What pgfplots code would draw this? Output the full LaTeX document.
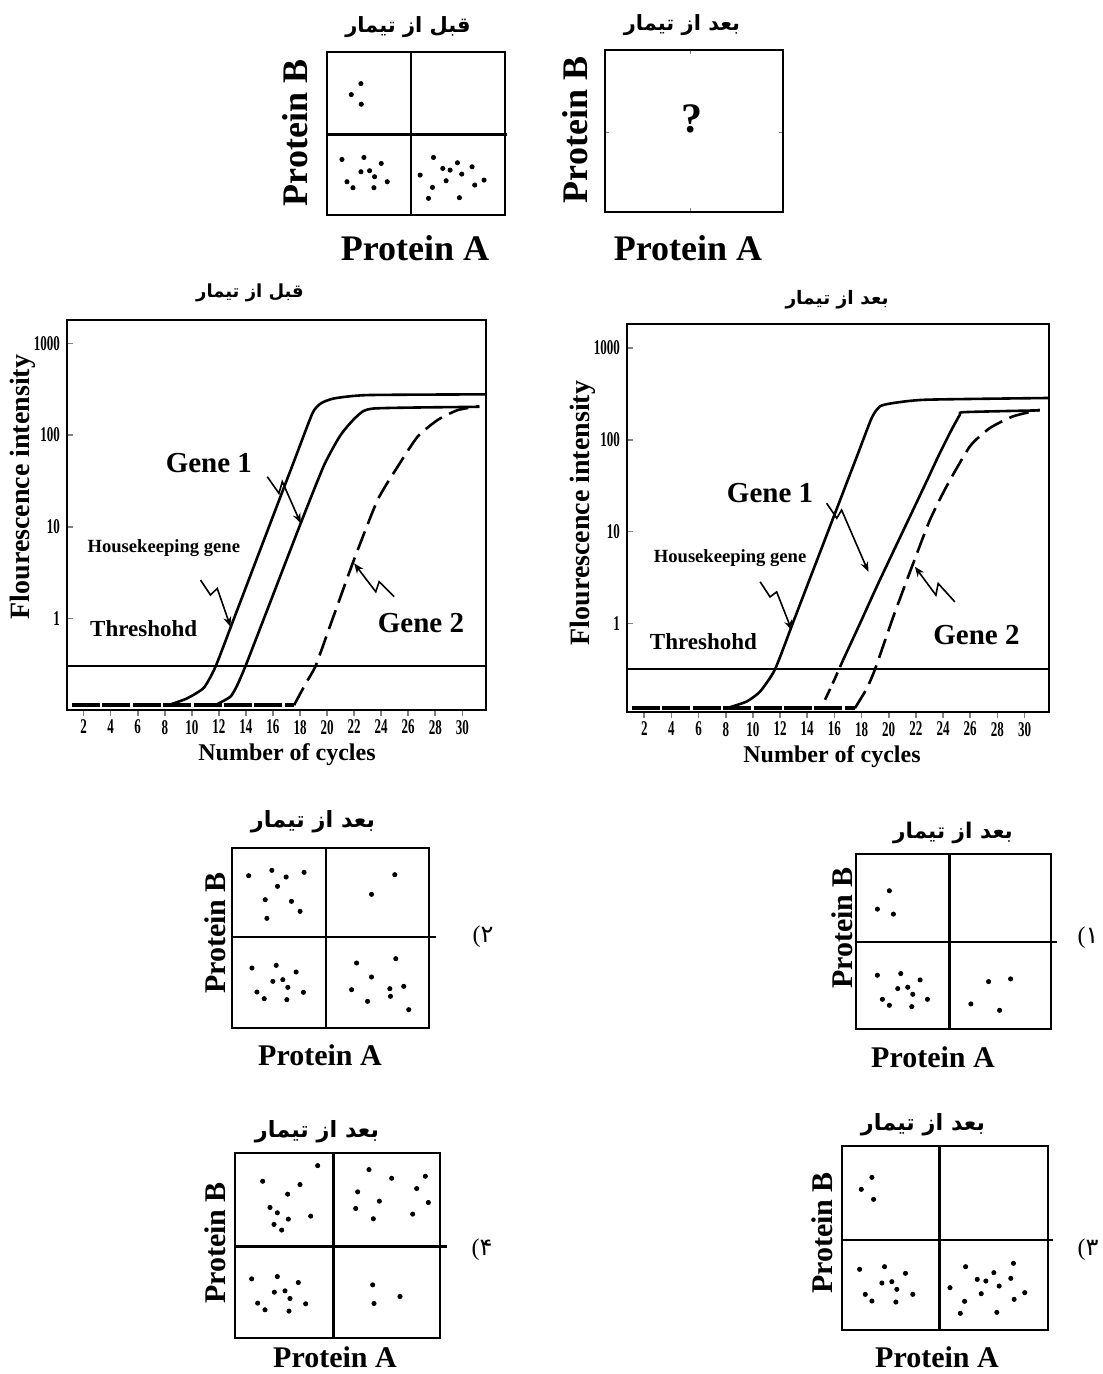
\documentclass[border=0pt]{standalone}
\usepackage{pgfplots}
\pgfplotsset{compat=1.18}
\usepackage{fontspec}
\setmainfont{Liberation Serif}
\newfontfamily\condfont[FakeStretch=0.62]{Liberation Serif}
\newfontfamily\arabicfont[Script=Arabic]{DejaVu Sans}
\TeXXeTstate=1
\usetikzlibrary{arrows.meta}
\newcommand{\fa}[1]{{\arabicfont\bfseries\beginR #1\endR}}
\newcommand{\fs}[1]{\fontsize{#1}{#1}\selectfont}
% option number: Persian "n)" as it reads right to left, "(" left of the digit
\newcommand{\opt}[1]{\hbox{(}\hbox{\arabicfont #1}}

\pgfplotsset{
  dots/.style={only marks, mark=*, mark size=1.05pt, black},
}
\tikzset{
  divl/.style={line width=1.3pt, black},
  curve/.style={line width=1.3pt, black, smooth, tension=0.35},
  base/.style={line width=2pt, black, dash pattern=on 14pt off 1.2pt},
  thr/.style={line width=1.1pt, black},
  zig/.style={line width=0.8pt, black, -{Stealth[length=5pt,width=4pt]}},
}

\begin{document}
\begin{tikzpicture}
\path[use as bounding box] (0pt,0pt) rectangle (551pt,-687pt);

% ---------------- top-left quadrant plot (before treatment)
\begin{axis}[scale only axis, anchor=north west, y dir=reverse,
  xtick=\empty, ytick=\empty, clip=false, axis line style={line width=1.3pt},
  at={(163.5pt,-26pt)}, width=89pt, height=81.5pt,
  xmin=170, xmax=705, ymin=155, ymax=645]
\addplot[divl] coordinates {(422,155) (422,645)};
\addplot[divl] coordinates {(170,403) (712,403)};
\addplot[dots] coordinates {(272,250) (243,283) (273,312)};
\addplot[dots] coordinates {(215,478) (281,472) (333,490) (272,515) (298,512)
  (313,530) (230,545) (351,545) (248,563) (311,563)};
\addplot[dots] coordinates {(490,472) (518,505) (540,510) (562,488) (606,500)
  (450,525) (575,522) (528,542) (642,540) (614,555) (487,562) (475,595) (568,593)};
\end{axis}
\node[font=\fs{10.5}] at (204pt,-13.5pt) {\fa{قبل از تیمار}};
\node[font=\bfseries\fs{18}] at (207.5pt,-124pt) {Protein A};
\node[font=\bfseries\fs{18}, rotate=90] at (147.5pt,-66.5pt) {Protein B};

% ---------------- top-right (after treatment, unknown)
\begin{axis}[scale only axis, anchor=north west, y dir=reverse,
  clip=false, axis line style={line width=1.3pt},
  at={(302.5pt,-25pt)}, width=89pt, height=81pt,
  xmin=1005, xmax=1540, ymin=150, ymax=635,
  xtick={1262}, ytick={395}, xticklabels={}, yticklabels={},
  tick align=inside, major tick length=2pt]
\addplot[draw=none] coordinates {(1265,355)};
\node[font=\bfseries\fs{21}] at (axis cs:1265,355) {?};
\end{axis}
\node[font=\fs{10.5}] at (341pt,-12.5pt) {\fa{بعد از تیمار}};
\node[font=\bfseries\fs{18}] at (344pt,-124pt) {Protein A};
\node[font=\bfseries\fs{18}, rotate=90] at (287.5pt,-65pt) {Protein B};

% ---------------- left qPCR chart (before)
\begin{axis}[scale only axis, anchor=north west, ymode=log,
  xtick={2,4,...,30},
  xticklabels={2,4,6,8,10,12,14,16,18,20,22,24,26,28,30},
  ytick={1,10,100,1000}, yticklabels={1,10,100,1000},
  yminorticks=false, tick pos=left, tick align=inside,
  major tick length=3pt, xtick style={yshift=-3pt, line width=0.8pt},
  ytick style={line width=0.8pt},
  tick label style={font=\condfont\bfseries\fs{10.5}},
  xticklabel style={yshift=-1.5pt},
  axis line style={line width=0.9pt},
  at={(33.5pt,-160pt)}, width=209.5pt, height=195pt,
  xmin=0.77, xmax=31.75, ymin=0.1, ymax=1800]
\addplot[thr] coordinates {(0.77,0.305) (31.75,0.305)};
\addplot[base] coordinates {(1.14,0.114) (17.56,0.114)};
\addplot[curve] coordinates {(8.42,0.115) (9.65,0.134) (10.89,0.175) (11.75,0.297)
  (13.11,0.99) (14.59,3.7) (16.32,17.3) (17.56,52) (18.91,172) (19.53,221)
  (20.52,251) (23.0,273) (31.75,278)};
\addplot[curve] coordinates {(11.88,0.116) (12.86,0.14) (13.36,0.187) (13.98,0.305)
  (15.58,1.24) (18.05,10.9) (19.78,47) (21.0,100) (22.2,160) (23.48,195) (31.26,203)};
\addplot[curve, dash pattern=on 10pt off 4pt] coordinates {(17.56,0.113) (18.42,0.195)
  (19.16,0.305) (20.52,1.1) (22.0,4.4) (23.73,19.5) (25.21,45) (26.69,96)
  (28.17,146) (29.65,187) (31.26,207)};
\draw[zig] (axis cs:15.58,35.1) -- (axis cs:16.44,23.1) -- (axis cs:16.69,31) -- (axis cs:18.05,10.9);
\draw[zig] (axis cs:10.64,2.62) -- (axis cs:11.38,1.8) -- (axis cs:11.88,2.12) -- (axis cs:12.86,0.81);
\draw[zig] (axis cs:24.96,1.72) -- (axis cs:23.85,2.51) -- (axis cs:23.6,1.95) -- (axis cs:22.0,3.98);
\node[font=\bfseries\fs{14.5}] at (axis cs:11.26,49) {Gene 1};
\node[font=\bfseries\fs{9.3}] at (axis cs:7.93,5.8) {Housekeeping gene};
\node[font=\bfseries\fs{11.5}] at (axis cs:6.44,0.778) {Threshohd};
\node[font=\bfseries\fs{14.5}] at (axis cs:26.94,0.88) {Gene 2};
\end{axis}
\node[font=\fs{9}] at (125pt,-146.5pt) {\fa{قبل از تیمار}};
\node[font=\bfseries\fs{12}] at (143.5pt,-377.5pt) {Number of cycles};
\node[font=\bfseries\fs{14}, rotate=90] at (11.5pt,-243.5pt) {Flourescence intensity};

% ---------------- right qPCR chart (after)
\begin{axis}[scale only axis, anchor=north west, ymode=log,
  xtick={2,4,...,30},
  xticklabels={2,4,6,8,10,12,14,16,18,20,22,24,26,28,30},
  ytick={1,10,100,1000}, yticklabels={1,10,100,1000},
  yminorticks=false, tick pos=left, tick align=inside,
  major tick length=3pt, xtick style={yshift=-3pt, line width=0.8pt},
  ytick style={line width=0.8pt},
  tick label style={font=\condfont\bfseries\fs{10.5}},
  xticklabel style={yshift=-1.5pt},
  axis line style={line width=0.9pt},
  at={(313.5pt,-162pt)}, width=211pt, height=194pt,
  xmin=0.73, xmax=31.8, ymin=0.109, ymax=1820]
\addplot[thr] coordinates {(0.73,0.318) (31.8,0.318)};
\addplot[base] coordinates {(1.09,0.12) (17.5,0.12)};
\addplot[curve] coordinates {(8.32,0.123) (9.55,0.142) (10.53,0.182) (11.63,0.318)
  (12.98,1.05) (14.45,3.86) (16.17,17.7) (17.64,65) (18.74,172) (19.35,231)
  (20.33,251) (22.78,273) (31.8,285)};
\addplot[curve, dash pattern=on 6pt off 3pt] coordinates {(15.31,0.148) (15.92,0.231) (16.63,0.398)};
\addplot[curve] coordinates {(16.63,0.398) (17.88,1.0) (19.11,2.51) (20.33,6.05)
  (21.56,14.6) (22.78,35.1) (23.76,71.6) (24.62,128) (25.24,187) (25.6,200) (31.12,209)};
\addplot[curve, dash pattern=on 10pt off 4pt] coordinates {(17.51,0.12) (18.37,0.195)
  (18.99,0.318) (20.33,1.18) (21.8,4.52) (23.03,13.4) (24.25,31) (25.97,84.6)
  (27.44,134) (29.16,180) (31.12,212)};
\draw[zig] (axis cs:15.43,20.4) -- (axis cs:16.17,14.0) -- (axis cs:16.53,17.2) -- (axis cs:18.5,3.66);
\draw[zig] (axis cs:10.53,2.85) -- (axis cs:11.26,1.95) -- (axis cs:11.75,2.21) -- (axis cs:12.86,0.846);
\draw[zig] (axis cs:24.87,1.72) -- (axis cs:23.64,2.73) -- (axis cs:23.47,2.04) -- (axis cs:21.93,4.15);
\node[font=\bfseries\fs{14.5}] at (axis cs:11.26,26.2) {Gene 1};
\node[font=\bfseries\fs{9.3}] at (axis cs:8.32,5.12) {Housekeeping gene};
\node[font=\bfseries\fs{11.5}] at (axis cs:6.36,0.63) {Threshohd};
\node[font=\bfseries\fs{14.5}] at (axis cs:26.46,0.746) {Gene 2};
\end{axis}
\node[font=\fs{9.3}] at (418.5pt,-150pt) {\fa{بعد از تیمار}};
\node[font=\bfseries\fs{12}] at (416pt,-378.5pt) {Number of cycles};
\node[font=\bfseries\fs{14}, rotate=90] at (291.5pt,-256.5pt) {Flourescence intensity};

% ---------------- option 2 (bottom-left, first row)
\begin{axis}[scale only axis, anchor=north west, y dir=reverse,
  xtick=\empty, ytick=\empty, clip=false, axis line style={line width=1.3pt},
  at={(116pt,-424pt)}, width=98.5pt, height=90pt,
  xmin=125, xmax=718, ymin=145, ymax=685]
\addplot[divl] coordinates {(408,145) (408,685)};
\addplot[divl] coordinates {(125,412) (740,412)};
\addplot[dots] coordinates {(175,228) (245,212) (288,232) (342,218) (262,260)
  (225,300) (304,305) (330,335) (230,356)};
\addplot[dots] coordinates {(615,225) (545,284)};
\addplot[dots] coordinates {(185,505) (258,497) (318,517) (248,545) (278,540)
  (293,563) (200,577) (340,578) (222,597) (290,600)};
\addplot[dots] coordinates {(500,490) (618,477) (545,532) (485,570) (600,567)
  (642,560) (533,605) (602,590) (657,630)};
\end{axis}
\node[font=\fs{11.2}] at (156.5pt,-411pt) {\fa{بعد از تیمار}};
\node[font=\bfseries\fs{15}] at (160pt,-527.5pt) {Protein A};
\node[font=\bfseries\fs{15}, rotate=90] at (107.5pt,-466.5pt) {Protein B};
\node[font=\fs{12}] at (241.5pt,-468.5pt) {\opt{۲}};

% ---------------- option 1 (right, first row)
\begin{axis}[scale only axis, anchor=north west, y dir=reverse,
  xtick=\empty, ytick=\empty, clip=false, axis line style={line width=1.3pt},
  at={(428pt,-427pt)}, width=97.5pt, height=87.5pt,
  xmin=108, xmax=692, ymin=133, ymax=657]
\addplot[divl] coordinates {(388,133) (388,657)};
\addplot[divl] coordinates {(108,397) (710,397)};
\addplot[dots] coordinates {(208,243) (172,298) (220,313)};
\addplot[dots] coordinates {(172,496) (242,491) (300,510) (233,536) (263,532)
  (278,553) (187,568) (322,568) (208,586) (275,590)};
\addplot[dots] coordinates {(505,515) (571,507) (452,582) (538,601)};
\end{axis}
\node[font=\fs{10.8}] at (476.5pt,-416.5pt) {\fa{بعد از تیمار}};
\node[font=\bfseries\fs{15}] at (466.5pt,-528.5pt) {Protein A};
\node[font=\bfseries\fs{15}, rotate=90] at (421pt,-464pt) {Protein B};
\node[font=\fs{12}] at (544pt,-469pt) {\opt{۱}};

% ---------------- option 4 (bottom-left, second row)
\begin{axis}[scale only axis, anchor=north west, y dir=reverse,
  xtick=\empty, ytick=\empty, clip=false, axis line style={line width=1.3pt},
  at={(117.5pt,-576.5pt)}, width=102.5pt, height=92.5pt,
  xmin=135, xmax=750, ymin=158, ymax=715]
\addplot[divl] coordinates {(430,158) (430,715)};
\addplot[divl] coordinates {(135,440) (770,440)};
\addplot[dots] coordinates {(218,243) (383,196) (330,253) (293,282) (240,322)
  (262,338) (295,357) (362,348) (252,373) (275,390)};
\addplot[dots] coordinates {(537,208) (605,234) (706,228) (680,265) (503,275)
  (568,303) (715,307) (497,325) (668,342) (550,356)};
\addplot[dots] coordinates {(185,537) (262,530) (325,548) (253,577) (285,573)
  (300,596) (203,610) (347,612) (225,630) (297,634)};
\addplot[dots] coordinates {(548,555) (630,590) (552,611)};
\end{axis}
\node[font=\fs{11.2}] at (158.5pt,-566pt) {\fa{بعد از تیمار}};
\node[font=\bfseries\fs{15}] at (167.5pt,-678.5pt) {Protein A};
\node[font=\bfseries\fs{15}, rotate=90] at (107.5pt,-621.5pt) {Protein B};
\node[font=\fs{12}] at (241pt,-625pt) {\opt{۴}};

% ---------------- option 3 (right, second row)
\begin{axis}[scale only axis, anchor=north west, y dir=reverse,
  xtick=\empty, ytick=\empty, clip=false, axis line style={line width=1.3pt},
  at={(421pt,-573pt)}, width=103pt, height=92pt,
  xmin=155, xmax=775, ymin=138, ymax=690]
\addplot[divl] coordinates {(448,138) (448,690)};
\addplot[divl] coordinates {(155,420) (790,420)};
\addplot[dots] coordinates {(245,232) (213,268) (250,298)};
\addplot[dots] coordinates {(208,508) (283,500) (346,520) (275,549) (305,545)
  (320,568) (225,583) (368,583) (245,603) (317,606)};
\addplot[dots] coordinates {(527,500) (671,490) (562,538) (588,543) (612,518)
  (663,535) (480,563) (628,558) (574,581) (705,578) (524,604) (673,598)
  (511,640) (621,637)};
\end{axis}
\node[font=\fs{11.2}] at (461.5pt,-562.5pt) {\fa{بعد از تیمار}};
\node[font=\bfseries\fs{15}] at (468.5pt,-678.5pt) {Protein A};
\node[font=\bfseries\fs{15}, rotate=90] at (411pt,-616.5pt) {Protein B};
\node[font=\fs{12}] at (544pt,-625pt) {\opt{۳}};
\end{tikzpicture}
\end{document}
